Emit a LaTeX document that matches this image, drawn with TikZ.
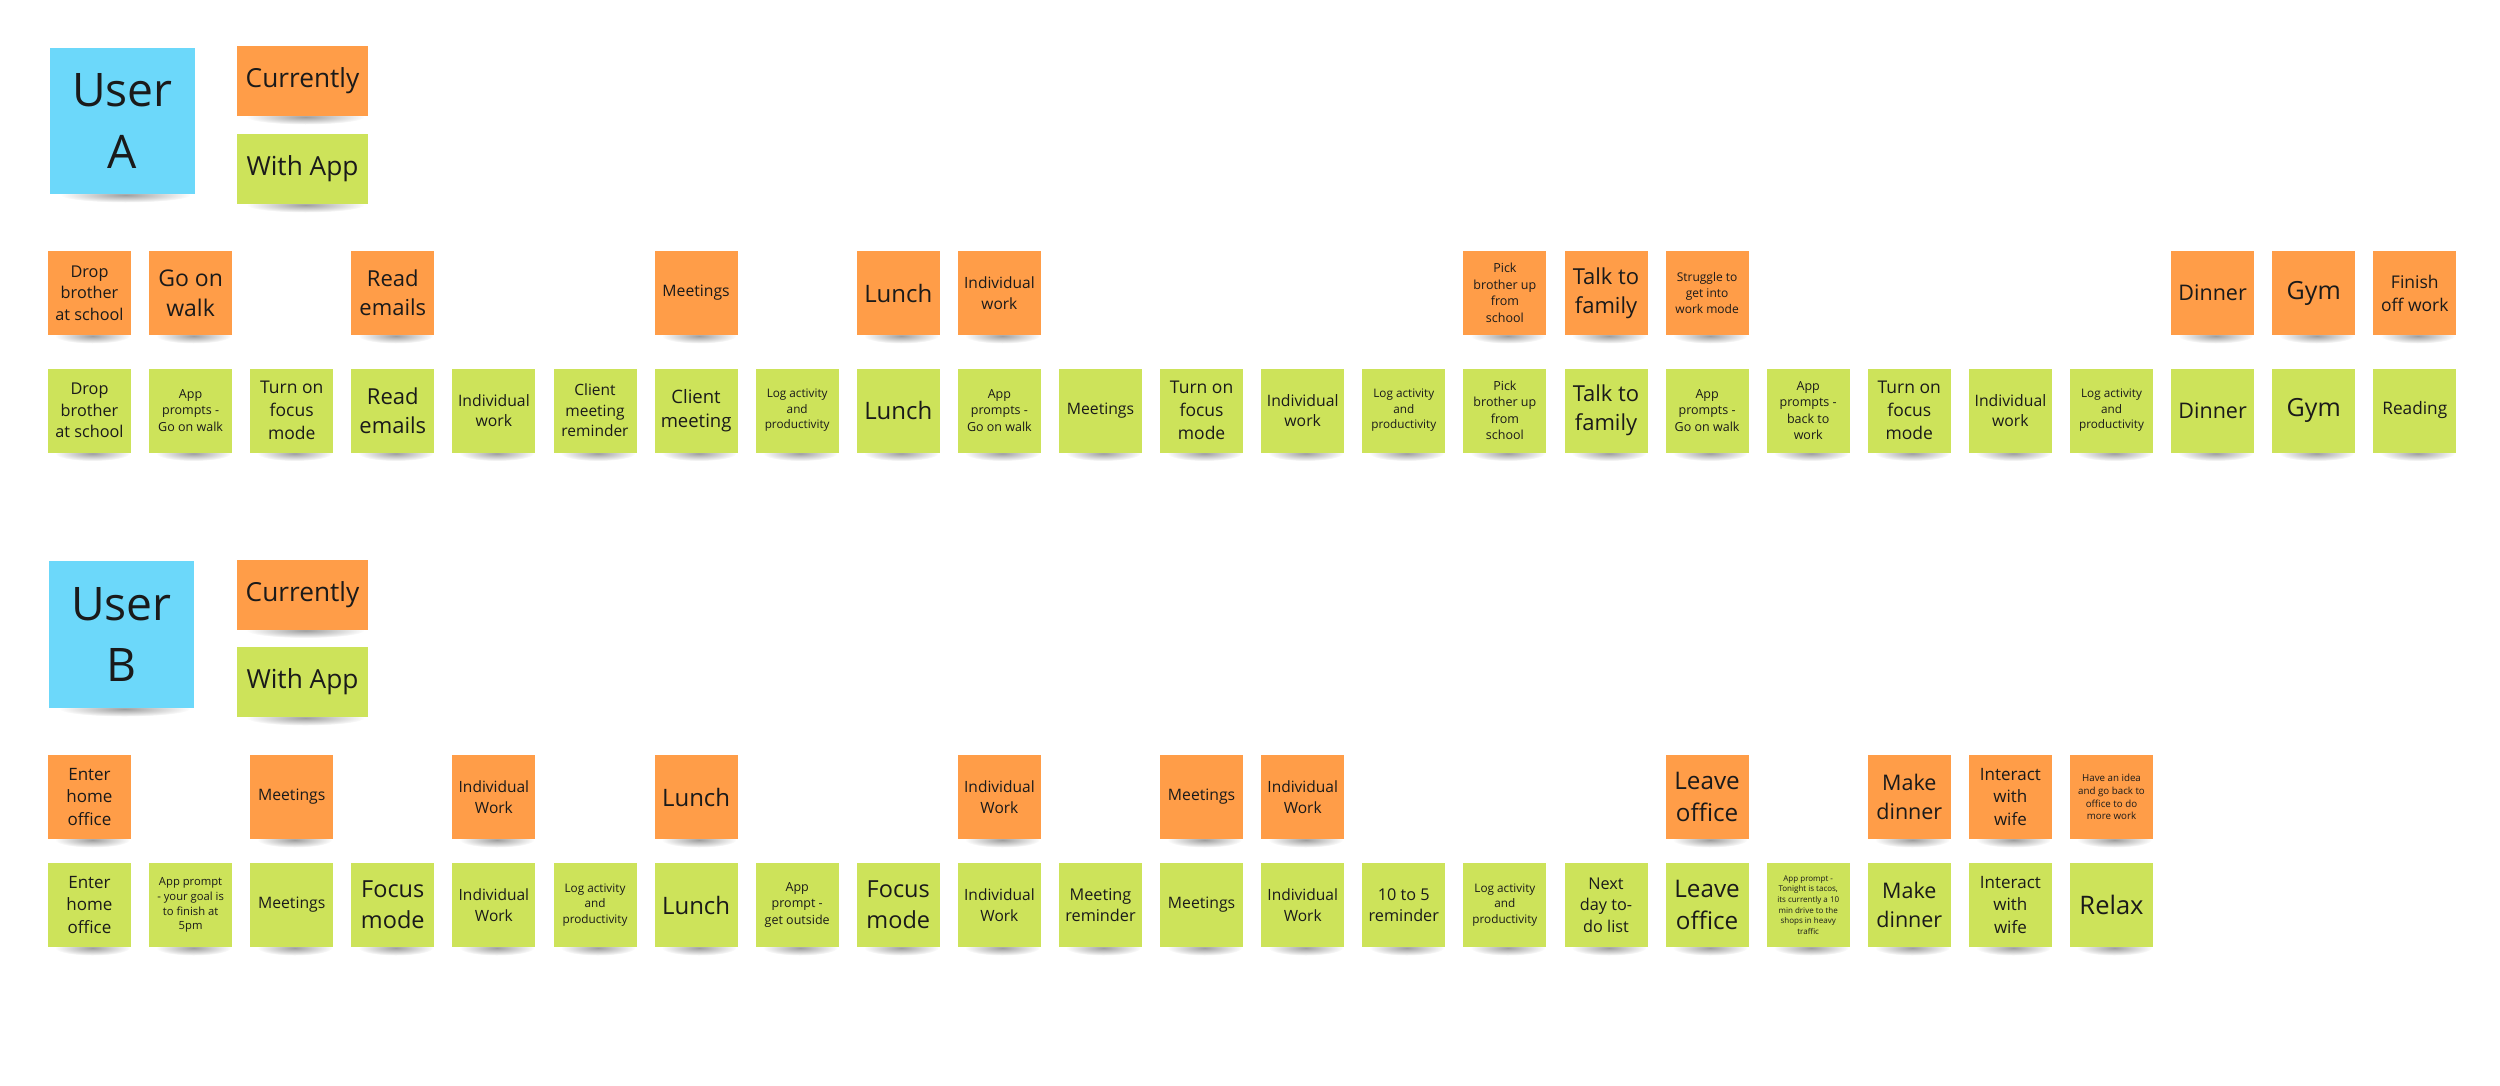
\documentclass[tikz,border=0pt]{standalone}
\usepackage{fontspec}
\setmainfont{Open Sans}
\usetikzlibrary{fadings}
\definecolor{noteorange}{HTML}{FF9D48}
\definecolor{notegreen}{HTML}{CDE35A}
\definecolor{noteblue}{HTML}{6CD8FA}
\definecolor{notetext}{HTML}{1A1A1A}
\tikzfading[name=softshadow, inner color=transparent!62, outer color=transparent!100]
\newcommand\fz[1]{\pgfmathsetmacro\bsk{#1*1.32}\fontsize{#1}{\bsk}\selectfont}
% name, cx, cy, width, height, colour, font size, text
\newcommand\sticky[8]{%
  \pgfmathsetmacro\shx{#2+3}%
  \pgfmathsetmacro\shy{#3+#5/2+1}%
  \pgfmathsetmacro\shr{#4*0.45}%
  \fill[black, path fading=softshadow] (\shx,\shy) ellipse [x radius=\shr, y radius=7.5];
  \node[note, fill=#6, minimum width=#4*0.4pt, minimum height=#5*0.4pt, font=\fz{#7}] (#1) at (#2,#3) {#8};
}
\tikzset{note/.style={rectangle, inner sep=0pt, align=center, text=notetext}}
\begin{document}
\begin{tikzpicture}[x=0.4pt, y=-0.4pt]
\fill[white] (0,0) rectangle (2500,1086);
\useasboundingbox (0,0) rectangle (2500,1086);

% headers
\sticky{userA}{122.5}{121}{145}{146}{noteblue}{18.5}{User\\A}
\sticky{curA}{302.5}{81}{131}{70}{noteorange}{10.5}{Currently}
\sticky{appA}{302.5}{169}{131}{70}{notegreen}{10.5}{With App}
\sticky{userB}{121.5}{634.5}{145}{147}{noteblue}{18.5}{User\\B}
\sticky{curB}{302.5}{594.5}{131}{70}{noteorange}{10.5}{Currently}
\sticky{appB}{302.5}{682}{131}{70}{notegreen}{10.5}{With App}

% User A - currently
\foreach \c/\s/\t in {
  1/6.5/{Drop\\brother\\at school},
  2/9.2/{Go on\\walk},
  4/8.8/{Read\\emails},
  7/6.3/{Meetings},
  9/9.6/{Lunch},
  10/6.2/{Individual\\work},
  15/5/{Pick\\brother up\\from\\school},
  16/8.8/{Talk to\\family},
  17/4.8/{Struggle to\\get into\\work mode},
  22/8.6/{Dinner},
  23/10/{Gym},
  24/7/{Finish\\off work}}{
  \pgfmathsetmacro\cx{89.5+(\c-1)*101.1}
  \sticky{ao\c}{\cx}{293}{83}{84}{noteorange}{\s}{\t}
}

% User A - with app
\foreach \c/\s/\t in {
  1/6.5/{Drop\\brother\\at school},
  2/5/{App\\prompts -\\Go on walk},
  3/7/{Turn on\\focus\\mode},
  4/8.8/{Read\\emails},
  5/6.3/{Individual\\work},
  6/6.2/{Client\\meeting\\reminder},
  7/7.4/{Client\\meeting},
  8/4.7/{Log activity\\and\\productivity},
  9/9.6/{Lunch},
  10/5/{App\\prompts -\\Go on walk},
  11/6.3/{Meetings},
  12/7/{Turn on\\focus\\mode},
  13/6.3/{Individual\\work},
  14/4.7/{Log activity\\and\\productivity},
  15/5/{Pick\\brother up\\from\\school},
  16/8.8/{Talk to\\family},
  17/5/{App\\prompts -\\Go on walk},
  18/5/{App\\prompts -\\back to\\work},
  19/7/{Turn on\\focus\\mode},
  20/6.3/{Individual\\work},
  21/4.7/{Log activity\\and\\productivity},
  22/8.6/{Dinner},
  23/10/{Gym},
  24/6.9/{Reading}}{
  \pgfmathsetmacro\cx{89.5+(\c-1)*101.1}
  \sticky{ag\c}{\cx}{410.5}{83}{84}{notegreen}{\s}{\t}
}

% User B - currently
\foreach \c/\s/\t in {
  1/6.8/{Enter\\home\\office},
  3/6.3/{Meetings},
  5/6.2/{Individual\\Work},
  7/9.6/{Lunch},
  10/6.2/{Individual\\Work},
  12/6.3/{Meetings},
  13/6.2/{Individual\\Work},
  17/9.7/{Leave\\office},
  19/8.6/{Make\\dinner},
  20/6.8/{Interact\\with\\wife},
  21/3.9/{Have an idea\\and go back to\\office to do\\more work}}{
  \pgfmathsetmacro\cx{89.5+(\c-1)*101.1}
  \sticky{bo\c}{\cx}{797}{83}{84}{noteorange}{\s}{\t}
}

% User B - with app
\foreach \c/\s/\t in {
  1/6.8/{Enter\\home\\office},
  2/4.5/{App prompt\\- your goal is\\to finish at\\5pm},
  3/6.3/{Meetings},
  4/9.4/{Focus\\mode},
  5/6.2/{Individual\\Work},
  6/4.7/{Log activity\\and\\productivity},
  7/9.6/{Lunch},
  8/5/{App\\prompt -\\get outside},
  9/9.4/{Focus\\mode},
  10/6.2/{Individual\\Work},
  11/6.5/{Meeting\\reminder},
  12/6.3/{Meetings},
  13/6.2/{Individual\\Work},
  14/6.5/{10 to 5\\reminder},
  15/4.7/{Log activity\\and\\productivity},
  16/6.5/{Next\\day to-\\do list},
  17/9.7/{Leave\\office},
  18/3.2/{App prompt -\\Tonight is tacos,\\its currently a 10\\min drive to the\\shops in heavy\\traffic},
  19/8.6/{Make\\dinner},
  20/6.8/{Interact\\with\\wife},
  21/10.2/{Relax}}{
  \pgfmathsetmacro\cx{89.5+(\c-1)*101.1}
  \sticky{bg\c}{\cx}{905}{83}{84}{notegreen}{\s}{\t}
}
\end{tikzpicture}
\end{document}
